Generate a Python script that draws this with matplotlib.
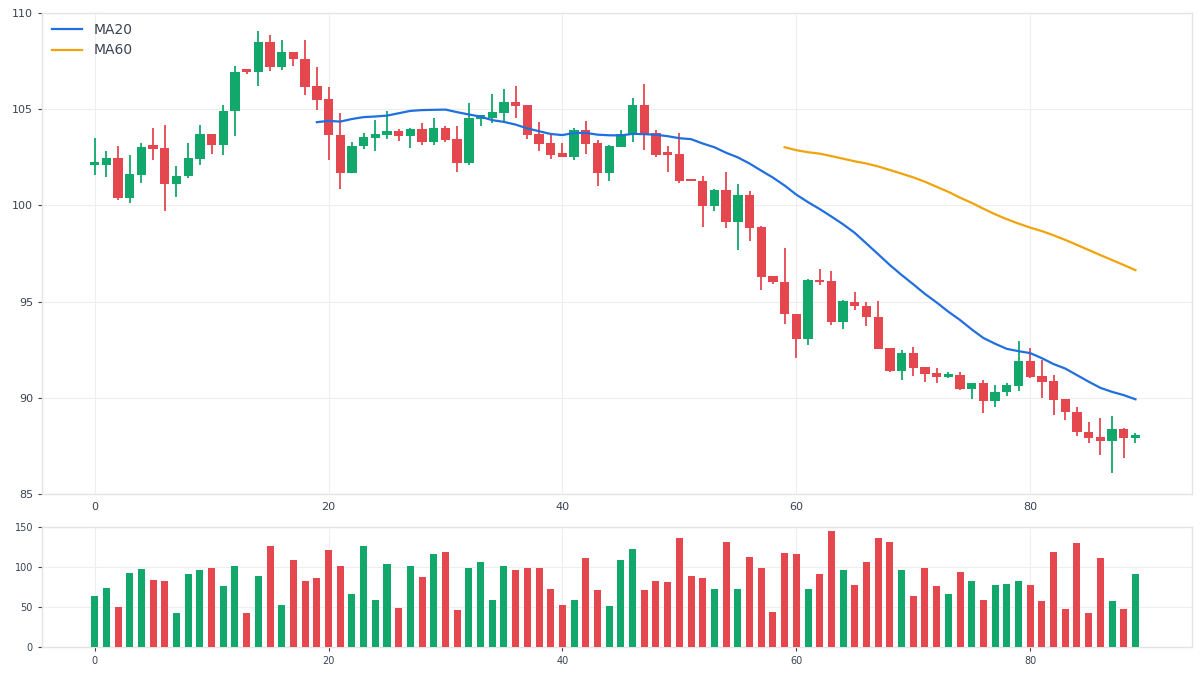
#!/usr/bin/env python3
"""
Candlestick chart with MA20 / MA60 and a volume panel underneath.
"""

import matplotlib
matplotlib.use("Agg")
import matplotlib.pyplot as plt
import numpy as np
import pandas as pd

# OHLC, one entry per session (index 0..89)
opens = [
    102.07, 102.07, 102.47, 100.38, 101.60, 103.14, 102.99, 101.13, 101.50, 102.43,
    103.73, 103.16, 104.88, 107.07, 106.91, 108.51, 107.17, 107.99, 107.62, 106.18,
    105.54, 103.66, 101.70, 103.06, 103.52, 103.66, 103.84, 103.61, 103.98, 103.28,
    104.03, 103.45, 102.22, 104.51, 104.55, 104.81, 105.36, 105.22, 103.70, 103.23,
    102.71, 102.52, 103.91, 103.23, 101.67, 103.04, 103.72, 105.21, 103.76, 102.79,
    102.65, 101.39, 101.28, 99.98, 100.81, 99.12, 100.55, 98.86, 96.31, 96.03,
    94.38, 93.08, 96.12, 96.05, 93.92, 95.00, 94.79, 94.22, 92.60, 91.37,
    92.34, 91.61, 91.30, 91.09, 91.20, 90.47, 90.78, 89.86, 90.28, 90.64,
    91.92, 91.14, 90.85, 89.95, 89.29, 88.23, 87.99, 87.78, 88.39, 87.94,
]
highs = [
    103.49, 102.83, 103.09, 102.62, 103.25, 104.03, 104.15, 102.05, 103.25, 104.15,
    103.73, 105.23, 107.26, 107.07, 109.03, 108.87, 108.58, 107.99, 108.61, 107.19,
    106.13, 104.79, 103.28, 103.77, 104.43, 104.90, 103.98, 104.00, 104.30, 104.53,
    104.13, 104.13, 105.31, 104.69, 105.78, 106.02, 106.20, 105.22, 104.32, 103.73,
    103.23, 104.01, 104.38, 103.39, 103.12, 103.91, 105.57, 106.30, 103.93, 103.10,
    103.76, 101.39, 101.54, 100.87, 101.72, 101.13, 100.76, 98.91, 96.31, 97.76,
    94.38, 96.15, 96.70, 96.57, 95.10, 95.52, 95.00, 95.05, 92.60, 92.50,
    92.66, 91.61, 91.56, 91.34, 91.35, 90.78, 90.94, 90.68, 90.78, 92.96,
    92.60, 91.98, 91.20, 89.95, 89.55, 88.77, 88.94, 89.06, 88.42, 88.15,
]
lows = [
    101.55, 101.49, 100.28, 100.14, 101.18, 102.33, 99.72, 100.45, 101.44, 102.12,
    102.69, 102.64, 103.58, 106.80, 106.18, 106.96, 107.01, 107.22, 105.75, 104.93,
    102.38, 100.87, 101.67, 102.92, 102.80, 103.47, 103.35, 103.00, 103.14, 103.14,
    103.28, 101.75, 102.09, 104.13, 104.29, 104.34, 104.55, 103.42, 102.83, 102.42,
    102.52, 102.38, 102.68, 101.01, 101.27, 103.04, 103.30, 102.89, 102.50, 101.75,
    101.16, 101.25, 98.86, 99.69, 98.80, 97.66, 98.13, 95.58, 95.89, 93.81,
    92.05, 92.77, 95.84, 93.76, 93.60, 94.55, 93.72, 92.52, 91.34, 90.95,
    91.16, 90.80, 90.75, 91.04, 90.42, 89.93, 89.20, 89.55, 90.12, 90.33,
    91.02, 89.97, 89.10, 88.87, 88.04, 87.68, 87.05, 86.12, 86.90, 87.68,
]
closes = [
    102.27, 102.47, 100.38, 101.63, 103.04, 102.95, 101.13, 101.53, 102.47, 103.73,
    103.16, 104.91, 106.94, 106.91, 108.51, 107.17, 107.99, 107.59, 106.13, 105.49,
    103.63, 101.70, 103.09, 103.56, 103.72, 103.84, 103.61, 103.98, 103.28, 104.03,
    103.40, 102.22, 104.53, 104.69, 104.84, 105.36, 105.17, 103.65, 103.20, 102.61,
    102.52, 103.91, 103.18, 101.67, 103.08, 103.72, 105.21, 103.68, 102.61, 102.60,
    101.28, 101.25, 99.98, 100.81, 99.12, 100.55, 98.80, 96.26, 96.00, 94.33,
    93.08, 96.10, 96.00, 93.92, 95.01, 94.76, 94.18, 92.55, 91.37, 92.34,
    91.56, 91.25, 91.09, 91.25, 90.47, 90.78, 89.86, 90.31, 90.69, 91.92,
    91.07, 90.80, 89.91, 89.24, 88.20, 87.94, 87.78, 88.39, 87.94, 88.06,
]
volumes = [
    64, 74, 50, 93, 98, 84, 83, 43, 91, 96,
    99, 76, 102, 43, 89, 127, 52, 109, 83, 86,
    121, 101, 66, 126, 59, 104, 49, 102, 87, 116,
    119, 46, 99, 107, 59, 101, 97, 99, 99, 73,
    52, 59, 111, 71, 51, 109, 123, 71, 83, 81,
    137, 89, 86, 73, 132, 72, 113, 99, 44, 118,
    116, 73, 91, 145, 96, 78, 107, 137, 132, 97,
    64, 99, 76, 66, 94, 83, 59, 78, 79, 82,
    77, 57, 119, 48, 130, 42, 111, 58, 48, 91,
]

UP = "#13a86b"
DOWN = "#e5474f"
GRID = "#eeeeee"
FRAME = "#e2e4e8"
TEXT = "#3b4252"


def style_axes(ax, size):
    ax.set_facecolor("white")
    for s in ax.spines.values():
        s.set_color(FRAME)
        s.set_linewidth(1.0)
    ax.grid(True, color=GRID, linewidth=0.8)
    ax.set_axisbelow(True)
    ax.tick_params(colors=TEXT, labelsize=size, length=3, width=0.8)


def main():
    df = pd.DataFrame({"open": opens, "high": highs, "low": lows,
                       "close": closes, "volume": volumes})
    df["ma20"] = df["close"].rolling(20).mean()
    df["ma60"] = df["close"].rolling(60).mean()
    x = np.arange(len(df))
    up = df["close"] >= df["open"]
    colors = np.where(up, UP, DOWN)

    fig = plt.figure(figsize=(12, 6.75), dpi=100)
    ax = fig.add_axes([0.035, 0.268, 0.958, 0.713])
    axv = fig.add_axes([0.035, 0.0415, 0.958, 0.1775])
    style_axes(ax, 8)
    style_axes(axv, 7)

    # wicks then bodies
    ax.vlines(x, df["low"], df["high"], colors=colors, linewidth=1.3, zorder=2)
    body_lo = np.minimum(df["open"], df["close"])
    body_h = np.maximum(np.abs(df["close"] - df["open"]), 0.06)
    ax.bar(x, body_h, bottom=body_lo, width=0.8, color=colors, zorder=3)

    ax.plot(x, df["ma20"], color="#1f6fde", linewidth=1.6, label="MA20", zorder=4)
    ax.plot(x, df["ma60"], color="#f0a30a", linewidth=1.6, label="MA60", zorder=4)

    ax.set_xlim(-4.5, 93.8)
    ax.set_ylim(85, 110)
    ax.set_yticks([85, 90, 95, 100, 105, 110])
    ax.set_xticks([0, 20, 40, 60, 80])
    ax.tick_params(axis="x", length=0, pad=6)
    leg = ax.legend(loc="upper left", frameon=False, fontsize=10,
                    handlelength=2.2, borderaxespad=0.3, labelspacing=0.5)
    for t in leg.get_texts():
        t.set_color(TEXT)

    axv.bar(x, df["volume"], width=0.6, color=colors, zorder=3)
    axv.set_xlim(-4.5, 93.8)
    axv.set_ylim(0, 150)
    axv.set_yticks([0, 50, 100, 150])
    axv.set_xticks([0, 20, 40, 60, 80])

    fig.savefig("out.png", dpi=100, facecolor="white")
    plt.close(fig)


if __name__ == "__main__":
    main()
